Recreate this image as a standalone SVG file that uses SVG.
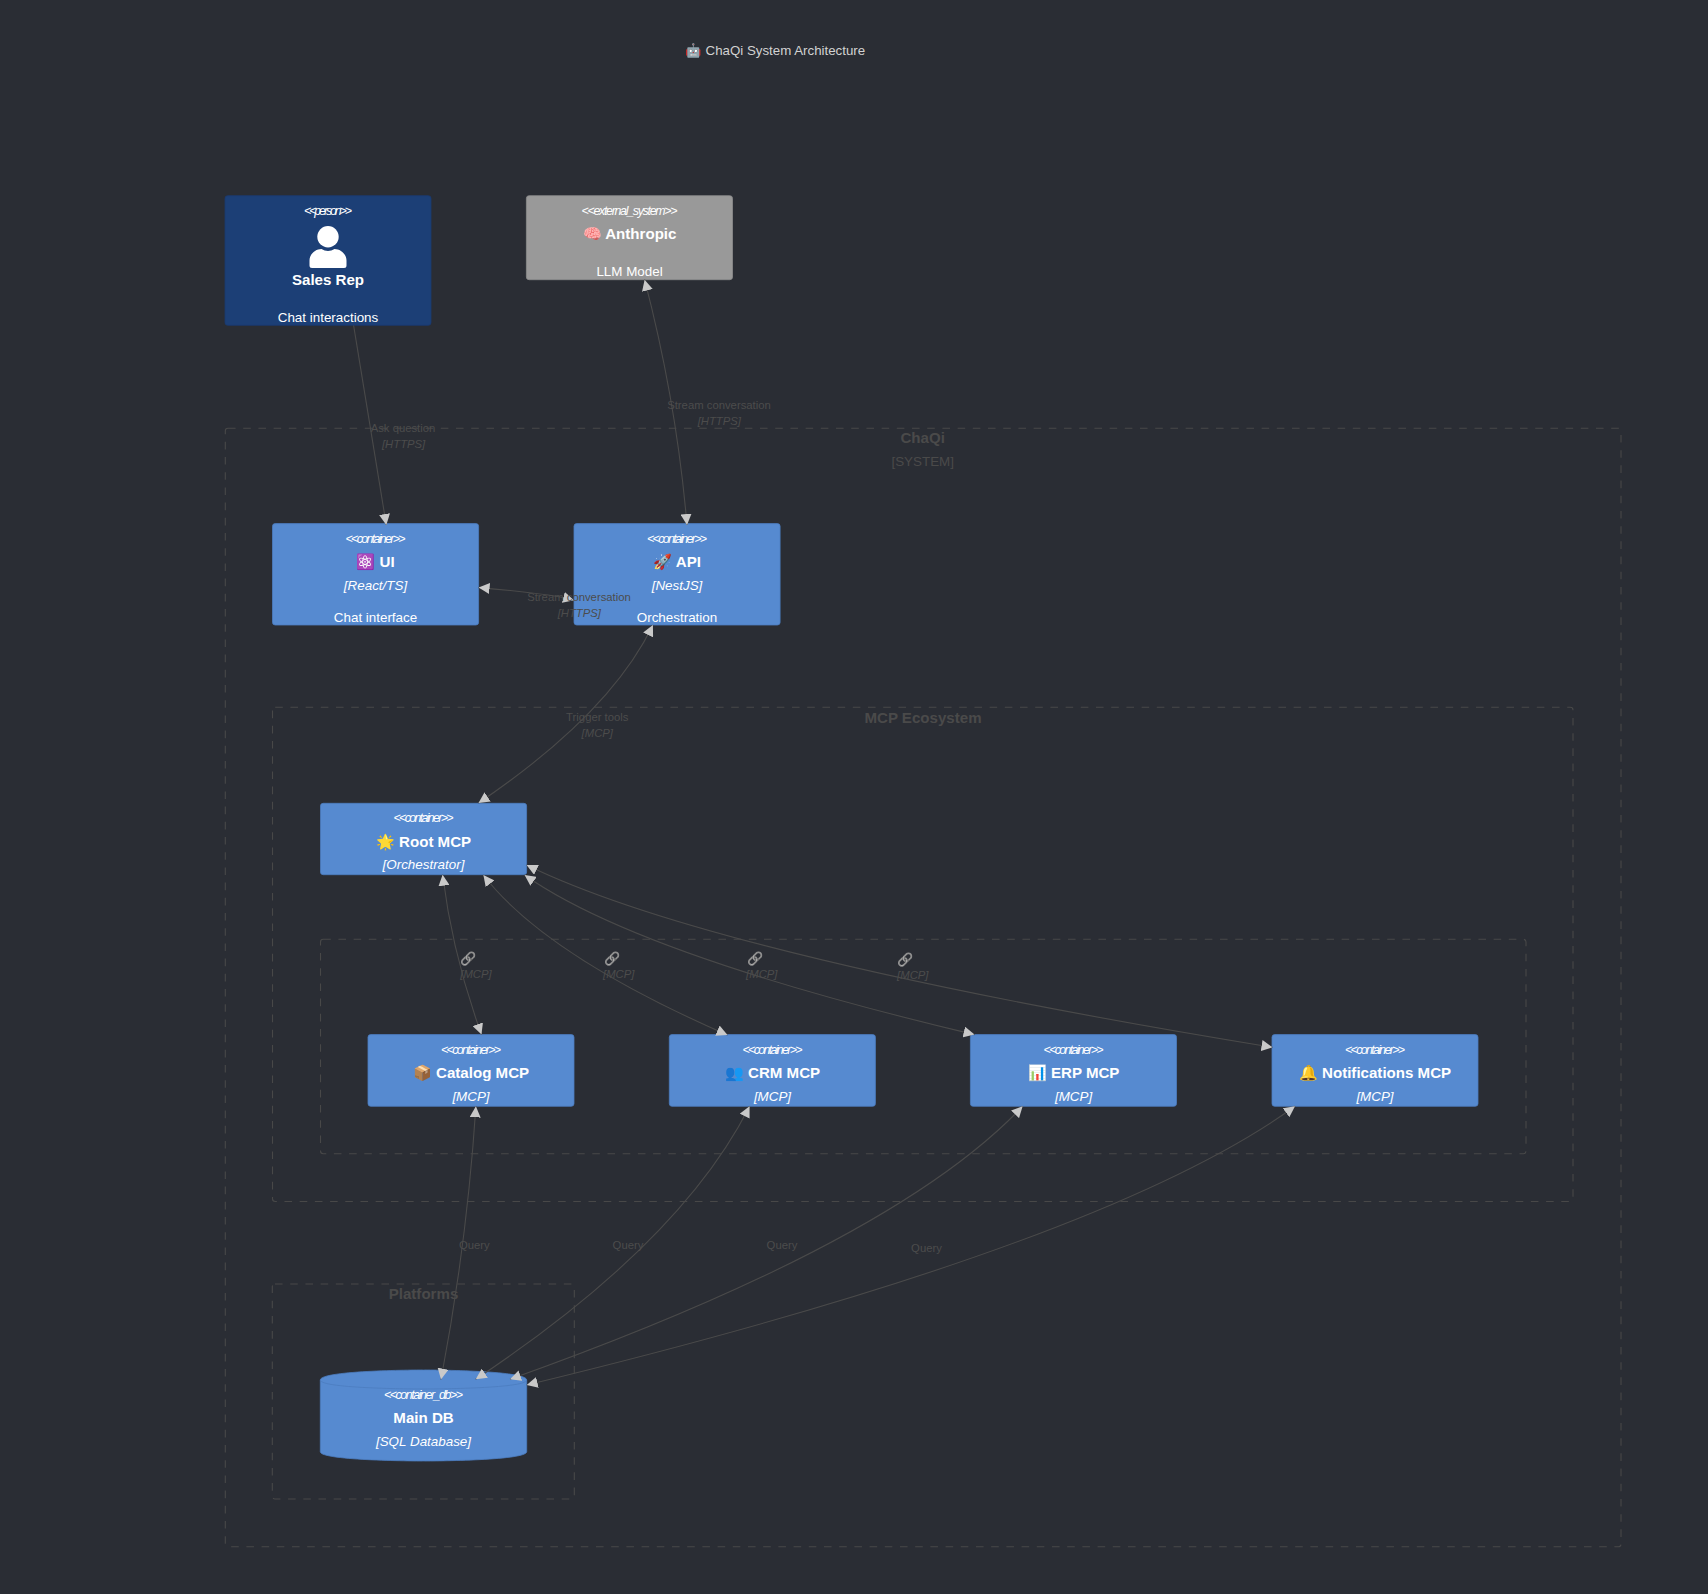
<svg xmlns="http://www.w3.org/2000/svg" width="1708" height="1594" viewBox="0 0 1708 1594">
<style>
text{font-family:"Liberation Sans","Noto Sans",sans-serif;text-anchor:middle}
.bg{fill:#2a2d34}
.title{font-size:13.3px;fill:#d2d2d2}
.bnd{fill:none;stroke:#484848;stroke-width:1.09;stroke-dasharray:7.6 7.6}
.bname{font-size:15.1px;font-weight:700;fill:#4a4a4a}
.btype{font-size:13.4px;fill:#4a4a4a}
.box{fill:#568ad0;stroke:#4b7cbf;stroke-width:.8}
.person{fill:#1c3f76;stroke:#1a3a70;stroke-width:.8}
.ext{fill:#999;stroke:#8c8c8c;stroke-width:.8}
.st{font-size:12.4px;font-style:italic;fill:#fff}
.name{font-size:15.1px;font-weight:700;fill:#fff}
.tech{font-size:13.4px;font-style:italic;fill:#fff}
.desc{font-size:13.4px;fill:#fff}
.rel{fill:none;stroke:#4a4a4a;stroke-width:1.09;marker-start:url(#ah);marker-end:url(#ah)}
.rel1{fill:none;stroke:#4a4a4a;stroke-width:1.09;marker-end:url(#ah)}
.lb{font-size:11.3px;fill:#4c4c4c}
.lt{font-size:11.3px;font-style:italic;fill:#4c4c4c}
.ic{font-size:13px;fill:#bbb;filter:grayscale(1) brightness(.85)}
</style>
<defs>
<marker id="ah" viewBox="0 0 10 10" refX="10" refY="5" markerUnits="userSpaceOnUse" markerWidth="11" markerHeight="11" orient="auto-start-reverse"><path d="M0 0L10 5L0 10z" fill="#c9c9c9"/></marker>
</defs>
<rect class="bg" width="1708" height="1594"/>
<text id="title" class="title" x="775" y="55">🤖 ChaQi System Architecture</text>
<g id="boundaries">
<g id="b-chaqi"><rect class="bnd" x="225.3" y="428.3" width="1395.7" height="1118.5" rx="2.7"/><text class="bname" x="922.7" y="443.3">ChaQi</text><text class="btype" x="922.7" y="466">[SYSTEM]</text></g>
<g id="b-mcp"><rect class="bnd" x="272.5" y="707.3" width="1300.5" height="494.2" rx="2.7"/><text class="bname" x="923" y="722.7">MCP Ecosystem</text></g>
<g id="b-inner"><rect class="bnd" x="320.5" y="939.3" width="1205.5" height="214.4" rx="2.7"/></g>
<g id="b-platforms"><rect class="bnd" x="272.3" y="1284" width="302" height="215" rx="2.7"/><text class="bname" x="423.5" y="1299">Platforms</text></g>
</g>
<g id="n-sales"><rect class="person" x="225" y="195.7" width="206" height="129.6" rx="2.7"/><text class="st" x="328" y="215.3" textLength="48">&lt;&lt;person&gt;&gt;</text><circle cx="328" cy="236.7" r="10.7" fill="#fff"/><path fill="#fff" d="M312 268h32a2.5 2.5 0 0 0 2.5-2.5v-5c0-6.5-6-11.5-12-11.5c-4 2.5-9 2.5-13 0c-6 0-12 5-12 11.5v5a2.5 2.5 0 0 0 2.5 2.5z"/><text class="name" x="328" y="285">Sales Rep</text><text class="desc" x="328" y="322.3">Chat interactions</text></g>
<g id="n-anthropic"><rect class="ext" x="526.4" y="195.7" width="206.1" height="84" rx="2.7"/><text class="st" x="629.5" y="215" textLength="96">&lt;&lt;external_system&gt;&gt;</text><text class="name" x="629.5" y="239.3">🧠 Anthropic</text><text class="desc" x="629.5" y="276">LLM Model</text></g>
<g id="n-ui"><rect class="box" x="272.5" y="523.6" width="206.1" height="101.4" rx="2.7"/><text class="st" x="375.5" y="543" textLength="60">&lt;&lt;container&gt;&gt;</text><text class="name" x="375.5" y="567.3">⚛️ UI</text><text class="tech" x="375.5" y="590.3">[React/TS]</text><text class="desc" x="375.5" y="622">Chat interface</text></g>
<g id="n-api"><rect class="box" x="574" y="523.6" width="206.1" height="101.4" rx="2.7"/><text class="st" x="677" y="543" textLength="60">&lt;&lt;container&gt;&gt;</text><text class="name" x="677" y="567.3">🚀 API</text><text class="tech" x="677" y="590.3">[NestJS]</text><text class="desc" x="677" y="622">Orchestration</text></g>
<g id="n-root"><rect class="box" x="320.5" y="803.3" width="206.1" height="71.4" rx="2.7"/><text class="st" x="423.5" y="822.3" textLength="60">&lt;&lt;container&gt;&gt;</text><text class="name" x="423.5" y="846.7">🌟 Root MCP</text><text class="tech" x="423.5" y="869">[Orchestrator]</text></g>
<g id="n-catalog"><rect class="box" x="368" y="1034.6" width="206" height="71.7" rx="2.7"/><text class="st" x="471" y="1054" textLength="60">&lt;&lt;container&gt;&gt;</text><text class="name" x="471" y="1078">📦 Catalog MCP</text><text class="tech" x="471" y="1101">[MCP]</text></g>
<g id="n-crm"><rect class="box" x="669.3" y="1034.6" width="206.1" height="71.7" rx="2.7"/><text class="st" x="772.5" y="1054" textLength="60">&lt;&lt;container&gt;&gt;</text><text class="name" x="772.5" y="1078">👥 CRM MCP</text><text class="tech" x="772.5" y="1101">[MCP]</text></g>
<g id="n-erp"><rect class="box" x="970.4" y="1034.6" width="206.1" height="71.7" rx="2.7"/><text class="st" x="1073.6" y="1054" textLength="60">&lt;&lt;container&gt;&gt;</text><text class="name" x="1073.6" y="1078">📊 ERP MCP</text><text class="tech" x="1073.6" y="1101">[MCP]</text></g>
<g id="n-notifications"><rect class="box" x="1272" y="1034.6" width="206" height="71.7" rx="2.7"/><text class="st" x="1375" y="1054" textLength="60">&lt;&lt;container&gt;&gt;</text><text class="name" x="1375" y="1078">🔔 Notifications MCP</text><text class="tech" x="1375" y="1101">[MCP]</text></g>
<g id="n-db"><path class="box" d="M320.3 1380c0-10 103.2-10 103.2-10c0 0 103.2 0 103.2 10v71.7c0 9.3-103.2 9.3-103.2 9.3c0 0-103.2 0-103.2-9.3z"/><path fill="none" stroke="#4b7cbf" stroke-width=".8" d="M320.3 1380c0 9 103.2 9 103.2 9c0 0 103.2 0 103.2-9"/><text class="st" x="423.5" y="1398.7" textLength="79">&lt;&lt;container_db&gt;&gt;</text><text class="name" x="423.5" y="1422.7">Main DB</text><text class="tech" x="423.5" y="1446.2">[SQL Database]</text></g>
<g id="connectors">
<path class="rel1" d="M353.6 325.3L386.3 525"/>
<path class="rel" d="M687 525Q676.5 402 644.6 279.7"/>
<path class="rel" d="M574 600.2Q549.5 593.6 478.6 587.6"/>
<path class="rel" d="M652.9 625Q610 714 478.5 803"/>
<path class="rel" d="M442.6 874.7Q452.5 954.5 481.5 1034.6"/>
<path class="rel" d="M483.4 875Q544.7 955 727.5 1035"/>
<path class="rel" d="M524.6 875Q637 954.6 974.5 1034.6"/>
<path class="rel" d="M526.6 865Q713 956 1272.5 1047.3"/>
<path class="rel" d="M475.9 1106.3Q467 1243 441 1379.5"/>
<path class="rel" d="M749.6 1106.3Q680.9 1242.6 475.7 1379.3"/>
<path class="rel" d="M1022.6 1106.3Q894.2 1242.6 510 1379.3"/>
<path class="rel" d="M1295 1106.3Q1103 1245.5 526.7 1385"/>
<g id="labels">
<text class="lb" x="403" y="431.7">Ask question</text><text class="lt" x="403.6" y="447.7">[HTTPS]</text>
<text class="lb" x="719" y="409">Stream conversation</text><text class="lt" x="719.3" y="425">[HTTPS]</text>
<text class="lb" x="579" y="601">Stream conversation</text><text class="lt" x="579.3" y="617">[HTTPS]</text>
<text class="lb" x="597.3" y="721">Trigger tools</text><text class="lt" x="597.3" y="737">[MCP]</text>
<text class="ic" x="468" y="962.5">🔗</text><text class="lt" x="476" y="977.7">[MCP]</text>
<text class="ic" x="611.6" y="962.5">🔗</text><text class="lt" x="618.7" y="977.7">[MCP]</text>
<text class="ic" x="754.7" y="962.5">🔗</text><text class="lt" x="761.8" y="977.7">[MCP]</text>
<text class="ic" x="905" y="963.5">🔗</text><text class="lt" x="912.8" y="979">[MCP]</text>
<text class="lb" x="474.3" y="1249.3">Query</text><text class="lb" x="628" y="1249.3">Query</text><text class="lb" x="782" y="1249.3">Query</text><text class="lb" x="926.5" y="1252">Query</text>
</g>
</g>
</svg>
